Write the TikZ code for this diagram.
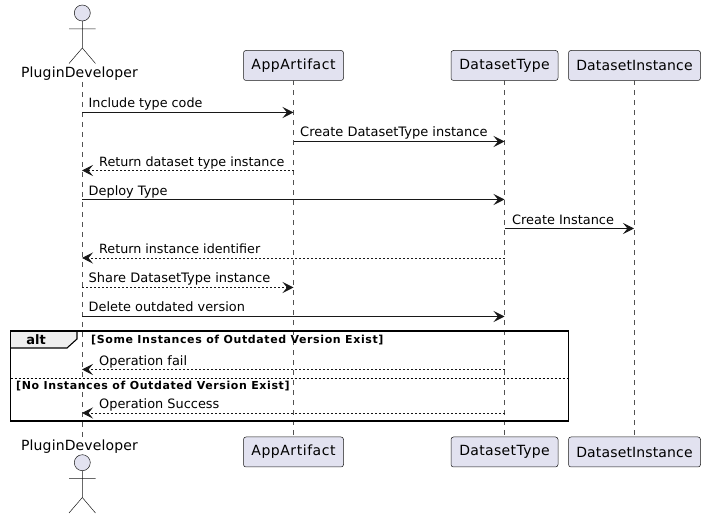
\documentclass[tikz,border=0pt]{standalone}
\usepackage{fontspec}
\setmainfont{DejaVu Sans}
\usetikzlibrary{arrows.meta,shapes.misc,calc}
\definecolor{partfill}{HTML}{E2E2F0}
\definecolor{ink}{HTML}{181818}
\definecolor{tabfill}{HTML}{EEEEEE}
\newcommand{\spaced}[1]{\addfontfeatures{LetterSpace=#1}}
\newcommand{\msgsize}[1]{\fontsize{#1}{15}\selectfont}
\tikzset{
  x=1pt,y=-1pt,
  part/.style={draw=ink,fill=partfill,line width=0.5pt,rounded corners=2.5pt,minimum height=30pt,inner sep=0pt,anchor=center,font=\fontsize{14}{16}\selectfont,text=black},
  actorlabel/.style={inner sep=0pt,anchor=center,font=\fontsize{14}{16}\selectfont\spaced{1},text=black},
  head/.style={circle,draw=ink,fill=partfill,line width=0.5pt,minimum size=16pt,inner sep=0pt},
  limb/.style={draw=ink,line width=0.5pt},
  life/.style={draw=ink!75,line width=0.5pt,dash pattern=on 5pt off 5pt},
  msg/.style={draw=ink,line width=0.9pt,-{Stealth[length=11pt,width=11pt,inset=4.5pt]}},
  ret/.style={msg,dash pattern=on 2pt off 2pt},
  msgtext/.style={inner sep=0pt,anchor=base west,font=\msgsize{12.9},text=black},
  guard/.style={inner sep=0pt,anchor=base west,font=\fontsize{11}{13}\bfseries\selectfont\spaced{5.5},text=black},
}
\begin{document}
\begin{tikzpicture}
\useasboundingbox (0,0) rectangle (705,518);
% participants
\node[actorlabel] (devT) at (79.5,74) {PluginDeveloper};
\node[actorlabel] (devB) at (79.5,447) {PluginDeveloper};
\node[part,minimum width=100pt,font=\fontsize{14}{16}\selectfont\spaced{3.9}] (appT) at (293.5,65.5) {AppArtifact};
\node[part,minimum width=107pt,font=\fontsize{14}{16}\selectfont\spaced{2.5}] (typeT) at (504.5,65.5) {DatasetType};
\node[part,minimum width=132pt,font=\fontsize{14}{16}\selectfont\spaced{1}] (instT) at (634.5,65.5) {DatasetInstance};
\node[part,minimum width=100pt,font=\fontsize{14}{16}\selectfont\spaced{3.9}] (appB) at (293.5,452) {AppArtifact};
\node[part,minimum width=107pt,font=\fontsize{14}{16}\selectfont\spaced{2.5}] (typeB) at (504.5,452) {DatasetType};
\node[part,minimum width=132pt,font=\fontsize{14}{16}\selectfont\spaced{1}] (instB) at (634.5,452) {DatasetInstance};
\coordinate (dev) at (82,82);
\coordinate (devEnd) at (82,437);
\coordinate (app) at (293.5,80.5);
\coordinate (appEnd) at (293.5,437);
\coordinate (type) at (504.5,80.5);
\coordinate (typeEnd) at (504.5,437);
\coordinate (inst) at (634,80.5);
\coordinate (instEnd) at (634,437);
% lifelines
\draw[life] (dev) -- (devEnd);
\draw[life] (app) -- (appEnd);
\draw[life] (type) -- (typeEnd);
\draw[life] (inst) -- (instEnd);
% actors
\node[head] (headT) at (82.3,13) {};
\draw[limb] (headT.south) -- (82.3,48) (69,29) -- (95.5,29) (69,63.5) -- (82.3,48) -- (95.5,63.5);
\node[head] (headB) at (82.3,462.7) {};
\draw[limb] (headB.south) -- (82.3,497.5) (69,478.5) -- (95.5,478.5) (69,513) -- (82.3,497.5) -- (95.5,513);
% frame
\fill[tabfill] (10.5,331) -- (77,331) -- (77,339) -- (67,348) -- (10.5,348) -- cycle;
\draw[draw=black,line width=1.1pt] (77,331) -- (77,339) -- (67,348) -- (10.5,348);
\draw[draw=black,line width=1.5pt] (10.5,331) rectangle (568.5,421);
\draw[draw=black,line width=0.7pt,dash pattern=on 2pt off 2pt] (10.5,378.5) -- (568.5,378.5);
\node[inner sep=0pt,font=\fontsize{13}{15}\bfseries\selectfont] (altlab) at (36,340) {alt};
\node[guard] (g1) at (91,344) {[Some Instances of Outdated Version Exist]};
\node[guard] (g2) at (16,389.5) {[No Instances of Outdated Version Exist]};
% messages
\draw[msg] (dev|-0,112.5) -- (app|-0,112.5);
\node[msgtext,font=\msgsize{12.75}] at (88.5,108) {Include type code};
\draw[msg] (app|-0,141.5) -- (type|-0,141.5);
\node[msgtext,font=\msgsize{13}] at (300,137) {Create DatasetType instance};
\draw[ret] (app|-0,170.5) -- (dev|-0,170.5);
\node[msgtext,font=\msgsize{12.75}] at (99,167) {Return dataset type instance};
\draw[msg] (dev|-0,199.5) -- (type|-0,199.5);
\node[msgtext] at (88.5,196) {Deploy Type};
\draw[msg] (type|-0,228.5) -- (inst|-0,228.5);
\node[msgtext] at (512,225) {Create Instance};
\draw[ret] (type|-0,258) -- (dev|-0,258);
\node[msgtext,font=\msgsize{12.7}] at (99,254) {Return instance identifier};
\draw[ret] (dev|-0,287.5) -- (app|-0,287.5);
\node[msgtext,font=\msgsize{13}] at (88.5,283) {Share DatasetType instance};
\draw[msg] (dev|-0,316.5) -- (type|-0,316.5);
\node[msgtext] at (88.5,312) {Delete outdated version};
\draw[ret] (type|-0,369.5) -- (dev|-0,369.5);
\node[msgtext] at (99,366) {Operation fail};
\draw[ret] (type|-0,413) -- (dev|-0,413);
\node[msgtext] at (99,409) {Operation Success};
\end{tikzpicture}
\end{document}
